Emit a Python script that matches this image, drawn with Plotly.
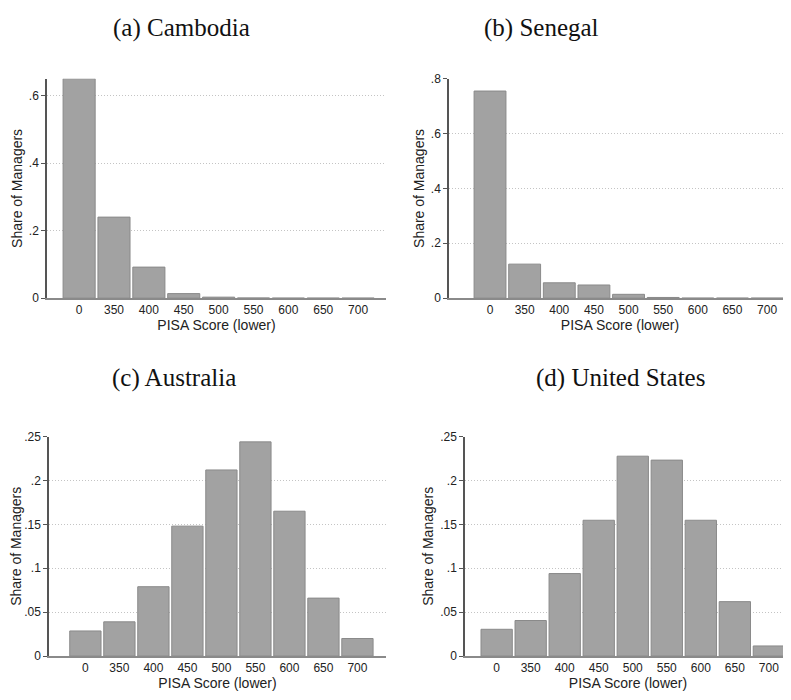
import plotly.graph_objects as go

# page body adds an 8px margin; figure is sized to fit the remaining window
OFF = 8
W, H = 791 - OFF, 700 - OFF

categories = ["0", "350", "400", "450", "500", "550", "600", "650", "700"]
cambodia = [0.650, 0.240, 0.092, 0.0135, 0.003, 0.0005, 0.0, 0.0, 0.0]
senegal = [0.755, 0.124, 0.056, 0.048, 0.014, 0.0025, 0.0, 0.0, 0.0]
australia = [0.0286, 0.039, 0.079, 0.148, 0.212, 0.244, 0.165, 0.066, 0.020]
united_states = [0.0305, 0.0405, 0.094, 0.1547, 0.2277, 0.2232, 0.1547, 0.062, 0.0115]

titles = ["(a) Cambodia", "(b) Senegal", "(c) Australia", "(d) United States"]
yticks_a = [0, 0.2, 0.4, 0.6]
yticks_b = [0, 0.2, 0.4, 0.6, 0.8]
yticks_cd = [0, 0.05, 0.1, 0.15, 0.2, 0.25]
ytext_a = ["0", ".2", ".4", ".6"]
ytext_b = ["0", ".2", ".4", ".6", ".8"]
ytext_cd = ["0", ".05", ".1", ".15", ".2", ".25"]

# panel layout in window pixels
panels = [
    dict(data=cambodia, xpx=(47, 386), ypx=(73, 297), xr=(-0.921, 8.8), yr=(0, 0.65),
         tv=yticks_a, tt=ytext_a, title=(181, 21)),
    dict(data=senegal, xpx=(449, 791), ypx=(73, 297), xr=(-1.184, 8.69), yr=(0, 0.8),
         tv=yticks_b, tt=ytext_b, title=(541, 21)),
    dict(data=australia, xpx=(49, 386), ypx=(438.3, 662.3), xr=(-1.07, 8.84), yr=(0, 0.25),
         tv=yticks_cd, tt=ytext_cd, title=(174, 379)),
    dict(data=united_states, xpx=(465, 791), ypx=(438.3, 662.3), xr=(-0.93, 8.65), yr=(0, 0.25),
         tv=yticks_cd, tt=ytext_cd, title=(620, 379)),
]

fig = go.Figure()
tickfont = dict(family="Liberation Sans, Arial, sans-serif", size=12, color="#222")
titlefont = dict(family="Liberation Sans, Arial, sans-serif", size=14, color="#222")

for i, p in enumerate(panels):
    n = "" if i == 0 else str(i + 1)
    fig.add_trace(go.Bar(
        x=list(range(len(categories))), y=p["data"],
        xaxis="x" + n, yaxis="y" + n,
        width=0.92,
        marker=dict(color="#a2a2a2", line=dict(color="#8a8a8a", width=1)),
        showlegend=False, hoverinfo="skip",
    ))
    x0, x1 = p["xpx"][0] - OFF, p["xpx"][1] - OFF
    yt, yb = p["ypx"][0] - OFF, p["ypx"][1] - OFF
    fig.layout["xaxis" + n] = dict(
        domain=[x0 / W, min(x1 / W, 1.0)], anchor="y" + n, range=list(p["xr"]),
        tickmode="array", tickvals=list(range(len(categories))), ticktext=categories,
        showgrid=False, zeroline=False, showline=True, linecolor="#8a8a8a", linewidth=1.5,
        ticks="", tickfont=tickfont, fixedrange=True,
        title=dict(text="PISA Score (lower)", font=titlefont, standoff=3),
    )
    fig.layout["yaxis" + n] = dict(
        domain=[1 - yb / H, 1 - yt / H], anchor="x" + n, range=list(p["yr"]),
        tickmode="array", tickvals=p["tv"], ticktext=p["tt"],
        showgrid=True, gridcolor="#c4c4c4", griddash="1px,2px", gridwidth=1,
        zeroline=False, showline=True, linecolor="#555", linewidth=1.5,
        ticks="outside", ticklen=4, tickcolor="#555", tickwidth=1,
        tickfont=tickfont, fixedrange=True,
        title=dict(text="Share of Managers", font=titlefont, standoff=3),
    )
    fig.add_annotation(
        text=titles[i],
        x=(p["title"][0] - OFF) / W, y=1 - (p["title"][1] - OFF) / H,
        xref="paper", yref="paper",
        xanchor="center", yanchor="middle", showarrow=False,
        font=dict(family="Liberation Serif, Times New Roman, serif", size=25, color="#111"),
    )

fig.update_layout(
    width=W, height=H, margin=dict(l=0, r=0, t=0, b=0),
    plot_bgcolor="white", paper_bgcolor="white", bargap=0.08,
)
fig.write_html("out.html")
